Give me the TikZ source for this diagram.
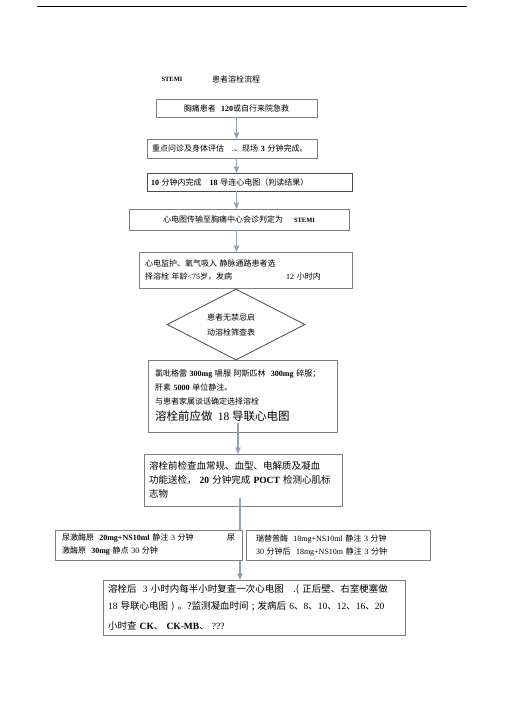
\documentclass[tikz,border=0pt]{standalone}
\usepackage{fontspec}
\setmainfont{Liberation Serif}
\newfontfamily\cjk{Noto Sans CJK SC}
\usetikzlibrary{arrows,positioning,shapes.geometric,calc}

\definecolor{boxgray}{HTML}{7F7F7F}
\definecolor{framedark}{HTML}{4A4A4A}
\definecolor{linkblue}{HTML}{8FA2BA}
\newcommand{\latn}[1]{{\rmfamily #1}}
\newcommand{\latb}[1]{{\rmfamily\bfseries #1}}

\begin{document}
\begin{tikzpicture}[x=1pt,y=-1pt,->,>=stealth',thin]
\tikzstyle{box}=[draw=boxgray,fill=white,line width=0.8pt,inner xsep=6pt,inner ysep=0pt,align=left,font=\cjk\fontsize{8}{13}\selectfont]
\tikzstyle{bigbox}=[box,inner xsep=5pt,font=\cjk\fontsize{9.5}{14}\selectfont]
\tikzstyle{check}=[diamond,draw=framedark,fill=white,line width=0.8pt,inner sep=0pt,aspect=2,align=center,font=\cjk\fontsize{8}{15}\selectfont]
\tikzstyle{link}=[draw=linkblue,line width=1.2pt]

\useasboundingbox (0,0) rectangle (505,714);
\draw[-,line width=0.8pt] (37,6) -- (467,6);

%title
\node[font=\rmfamily\bfseries\fontsize{6.5}{8}\selectfont] (stemi) at (172,79) {STEMI};
\node[font=\cjk\fontsize{8}{10}\selectfont] (title) at (236,79) {患者溶栓流程};

\node[box,align=center,text width=149pt,minimum height=18pt] (n1) at (236.5,108) {胸痛患者\ \ \latb{120}或自行来院急救};
\node[box,inner xsep=5pt,text width=160pt,minimum height=19pt] (n2) [below of=n1,node distance=40.5pt,xshift=-4.5pt] {\mbox{重点问诊及身体评估\ \ \ .、现场\ \latb{3}\ 分钟完成。}};
\node[box,draw=framedark,inner xsep=4pt,text width=197pt,minimum height=18pt] (n3) [below of=n2,node distance=33.5pt,xshift=17.5pt] {\latb{10}\ 分钟内完成\ \ \ \latb{18}\ 导连心电图（判读结果）};
\node[box,align=center,text width=208pt,minimum height=21pt] (n4) [below of=n3,node distance=37.5pt,xshift=-10.5pt] {心电图传输至胸痛中心会诊判定为\hspace{11pt}{\rmfamily\bfseries\fontsize{6.5}{8}\selectfont STEMI}};
\node[box,text width=201pt,minimum height=36pt] (n5) [below of=n4,node distance=50.5pt,xshift=6.5pt] {心电监护、氧气吸入 静脉通路患者选\\择溶栓 年龄\latn{<75}岁，发病\hspace{54pt}\latn{12}\ 小时内};
\node[check,minimum width=138pt,minimum height=71pt] (dia) [below of=n5,node distance=54.5pt,xshift=-9.5pt] {患者无禁忌启\hspace*{10pt}\\动溶栓筛查表\hspace*{10pt}};
\node[box,inner xsep=7pt,text width=175pt,minimum height=72pt,font=\cjk\fontsize{8}{14}\selectfont] (n6) [below of=dia,node distance=71.5pt,xshift=6.5pt] {氯吡格雷\ \latb{300mg}\ 嚼服\ 阿斯匹林\ \ \latb{300mg}\ 碎服；\\肝素\ \latb{5000}\ 单位静注。\\与患者家属谈话确定选择溶栓\\[2pt]{\fontsize{11.5}{14}\selectfont 溶栓前应做\ \ \latn{18}\ 导联心电图}};
\node[bigbox,text width=188pt,minimum height=52pt] (n7) [below of=n6,node distance=84pt,xshift=0.5pt] {溶栓前检查血常规、血型、电解质及凝血\\功能送检，\ \latb{20}\ 分钟完成\ \latb{POCT}\ 检测心肌标\\志物};
\node[bigbox,text width=292pt,minimum height=55pt,font=\cjk\fontsize{9.5}{17}\selectfont] (n10) [below of=n7,node distance=127.5pt,xshift=11pt] {溶栓后\ \ \latn{3}\ 小时内每半小时复查一次心电图\ \ \ .(\ 正后壁、右室梗塞做\\\latn{18}\ 导联心电图\ )\ 。?监测凝血时间\ ;\ 发病后\ \latn{6}、\latn{8}、\latn{10}、\latn{12}、\latn{16}、\latn{20}\\[3pt]小时查\ \latb{CK}、\ \latb{CK-MB}、\ \latn{???}};

\coordinate (c6) at ($(n1.south |- n6.south)+(1.5,-9)$);
\coordinate (c7) at ($(n7.south)+(-3,-8)$);

\path
(n1.south) edge[link] (n1.south |- n2.north)
(n1.south |- n2.south) edge[link] (n1.south |- n3.north)
(n1.south |- n3.south) edge[link] (n1.south |- n4.north)
(n1.south |- n4.south) edge[link] (n1.south |- n5.north)
(c6) edge[link] (c6 |- n7.north)
(c7) edge[link] (c7 |- n10.north)
;

%drug boxes over the long link
\node[box,inner xsep=7pt,text width=173pt,minimum height=30pt] (n8) [below of=n7,node distance=65pt,xshift=-94.5pt] {尿激酶原\ \ \latb{20mg+NS10ml}\ 静注\ \latn{3}\ 分钟\hfill 尿\\激酶原\ \ \latb{30mg}\ 静点\ \latn{30}\ 分钟};
\node[box,inner xsep=10pt,text width=164pt,minimum height=30pt] (n9) [right of=n8,node distance=189.5pt] {瑞替普酶\ \ \latn{18mg+NS10ml}\ 静注\ \latn{3}\ 分钟\\\latn{30}\ 分钟后\ \ \latn{18mg+NS10m}\ 静注\ \latn{3}\ 分钟};

\end{tikzpicture}
\end{document}
